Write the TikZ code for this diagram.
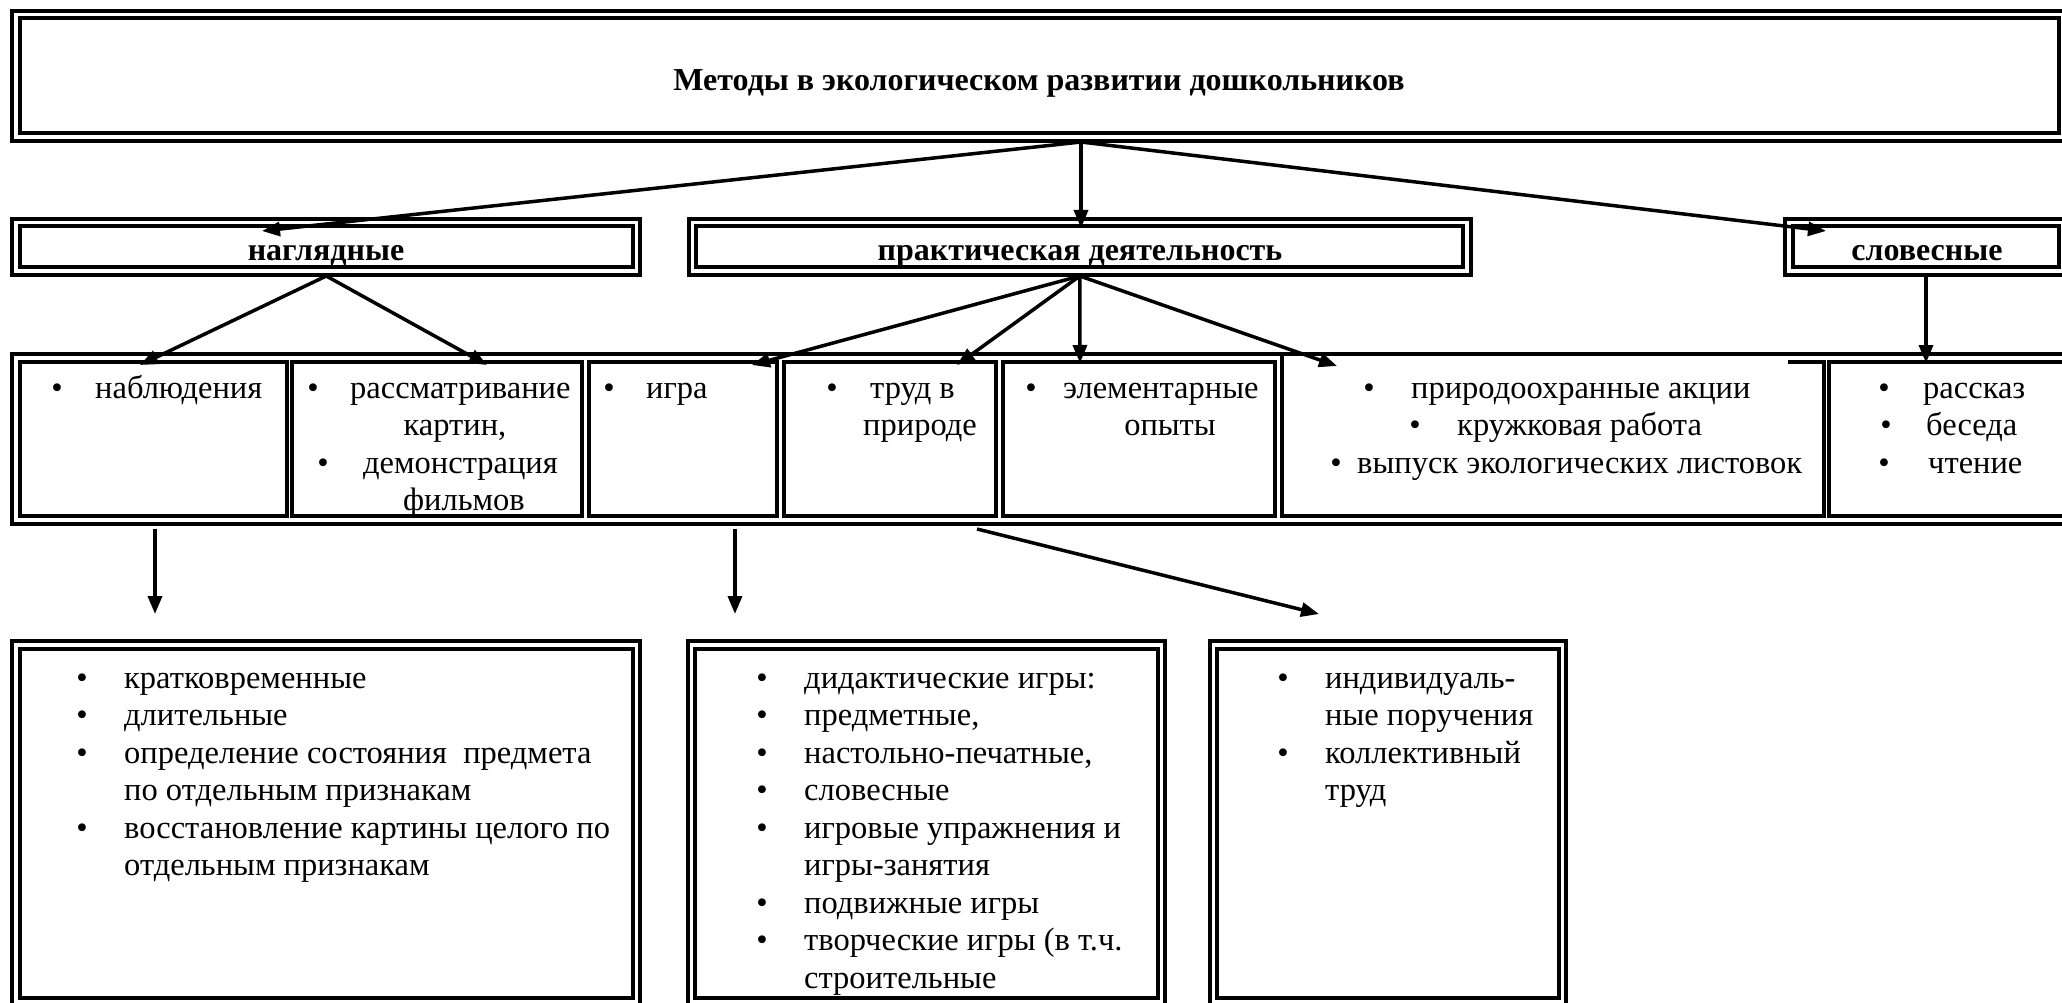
\documentclass[tikz,border=0pt]{standalone}
\usepackage{fontspec}
\setmainfont{Liberation Serif}
\usetikzlibrary{arrows.meta}
\newcommand{\myBody}{\fontsize{32.5}{37.5}\selectfont}
\newcommand{\myHead}{\bfseries\fontsize{32}{37.5}\selectfont}
\tikzset{
  box/.style={anchor=north west, inner sep=0pt, outer sep=0pt},
  dbl/.style={box, draw, line width=4pt, double, double distance=3.4pt},
  sgl/.style={box, draw, line width=4pt},
  arr/.style={line width=3.5pt, -{Triangle[length=18pt,width=14pt]}},
  txt/.style={anchor=base west, inner sep=0pt, font=\myBody},
  ctxt/.style={anchor=base, inner sep=0pt, font=\myBody},
  bul/.style={anchor=base, inner sep=0pt, font=\myBody},
  head/.style={anchor=base, inner sep=0pt, font=\myHead},
}
\begin{document}
\begin{tikzpicture}[x=1pt,y=-1pt]
\useasboundingbox[fill=white] (0,0) rectangle (2062,1003);

% ---------- boxes ----------
\node[dbl, minimum width=2047pt, minimum height=122.5pt] (top) at (16,14.5) {};
\node[head] (title) at (1039,91) {Методы в экологическом развитии дошкольников};

\node[dbl, minimum width=620.5pt, minimum height=48.5pt] (nagl) at (16,222.5) {};
\node[dbl, minimum width=774.5pt, minimum height=48.5pt] (prakt) at (692.5,222.5) {};
\node[dbl, minimum width=274pt, minimum height=48.5pt] (slov) at (1789,222.5) {};
\node[head] (naglT) at (326,261) {наглядные};
\node[head] (praktT) at (1080,261) {практическая деятельность};
\node[head] (slovT) at (1927,261) {словесные};

\node[sgl, minimum width=2060pt, minimum height=170pt] (frame) at (12,354) {};
\node[sgl, minimum width=267pt, minimum height=154pt] (c1) at (20,362) {};
\node[sgl, minimum width=290pt, minimum height=154pt] (c2) at (292,362) {};
\node[sgl, minimum width=188pt, minimum height=154pt] (c3) at (589,362) {};
\node[sgl, minimum width=212pt, minimum height=154pt] (c4) at (784,362) {};
\node[sgl, minimum width=272pt, minimum height=154pt] (c5) at (1003,362) {};
\node[box, minimum width=542pt, minimum height=162pt] (c6) at (1282,354) {};
\draw[line width=4pt] (1788,362) -| (c6.south east) -| (c6.north west) -- (1788,354);
\node[sgl, minimum width=245pt, minimum height=154pt] (c7) at (1829,362) {};

\node[dbl, minimum width=620.5pt, minimum height=357pt] (b1) at (16,645) {};
\node[dbl, minimum width=470pt, minimum height=357pt] (b2) at (691.5,645) {};
\node[dbl, minimum width=349pt, minimum height=357pt] (b3) at (1213.5,645) {};

% ---------- row 3 texts ----------
\node[bul] (c1b1) at (57,398) {•};
\node[txt] (c1t1) at (95,398) {наблюдения};

\node[bul] (c2b1) at (313,398) {•};
\node[txt] (c2t1) at (350,398) {рассматривание};
\node[ctxt] (c2t2) at (455,435.5) {картин,};
\node[bul] (c2b3) at (323,473) {•};
\node[txt] (c2t3) at (363,473) {демонстрация};
\node[ctxt] (c2t4) at (464,510.5) {фильмов};

\node[bul] (c3b1) at (609,398) {•};
\node[txt] (c3t1) at (646,398) {игра};

\node[bul] (c4b1) at (832,398) {•};
\node[txt] (c4t1) at (870,398) {труд в};
\node[ctxt] (c4t2) at (920,435.5) {природе};

\node[bul] (c5b1) at (1031,398) {•};
\node[txt] (c5t1) at (1063,398) {элементарные};
\node[ctxt] (c5t2) at (1170,435.5) {опыты};

\node[bul] (c6b1) at (1369,398) {•};
\node[txt] (c6t1) at (1411,398) {природоохранные акции};
\node[bul] (c6b2) at (1415,435.5) {•};
\node[txt] (c6t2) at (1457,435.5) {кружковая работа};
\node[bul] (c6b3) at (1336,473) {•};
\node[txt] (c6t3) at (1357,473) {выпуск экологических листовок};

\node[bul] (c7b1) at (1884,398) {•};
\node[txt] (c7t1) at (1923,398) {рассказ};
\node[bul] (c7b2) at (1886,435.5) {•};
\node[txt] (c7t2) at (1926,435.5) {беседа};
\node[bul] (c7b3) at (1884,473) {•};
\node[txt] (c7t3) at (1928,473) {чтение};

% ---------- bottom texts ----------
\node[bul] (b1b1) at (82,688) {•};
\node[txt] (b1t1) at (124,688) {кратковременные};
\node[bul] (b1b2) at (82,725.5) {•};
\node[txt] (b1t2) at (124,725.5) {длительные};
\node[bul] (b1b3) at (82,763) {•};
\node[txt] (b1t3) at (124,763) {определение состояния \ предмета};
\node[txt] (b1t4) at (124,800.5) {по отдельным признакам};
\node[bul] (b1b5) at (82,838) {•};
\node[txt] (b1t5) at (124,838) {восстановление картины целого по};
\node[txt] (b1t6) at (124,875.5) {отдельным признакам};

\node[bul] (b2b1) at (762,688) {•};
\node[txt] (b2t1) at (804,688) {дидактические игры:};
\node[bul] (b2b2) at (762,725.5) {•};
\node[txt] (b2t2) at (804,725.5) {предметные,};
\node[bul] (b2b3) at (762,763) {•};
\node[txt] (b2t3) at (804,763) {настольно-печатные,};
\node[bul] (b2b4) at (762,800.5) {•};
\node[txt] (b2t4) at (804,800.5) {словесные};
\node[bul] (b2b5) at (762,838) {•};
\node[txt] (b2t5) at (804,838) {игровые упражнения и};
\node[txt] (b2t6) at (804,875.5) {игры-занятия};
\node[bul] (b2b7) at (762,913) {•};
\node[txt] (b2t7) at (804,913) {подвижные игры};
\node[bul] (b2b8) at (762,950.5) {•};
\node[txt] (b2t8) at (804,950.5) {творческие игры (в т.ч.};
\node[txt] (b2t9) at (804,988) {строительные};

\node[bul] (b3b1) at (1283,688) {•};
\node[txt] (b3t1) at (1325,688) {индивидуаль-};
\node[txt] (b3t2) at (1325,725.5) {ные поручения};
\node[bul] (b3b3) at (1283,763) {•};
\node[txt] (b3t3) at (1325,763) {коллективный};
\node[txt] (b3t4) at (1325,800.5) {труд};

% ---------- connectors ----------
\coordinate (s0) at (1081,142);
\coordinate (tA) at (262,231);
\coordinate (tB) at (1081,228);
\coordinate (tC) at (1826,231);
\draw[arr] (s0) -- (tA);
\draw[arr] (s0) -- (tB);
\draw[arr] (s0) -- (tC);

\coordinate (t1) at (140,365);
\coordinate (t2) at (487,365);
\draw[arr] ([yshift=-5pt]nagl.south) -- (t1);
\draw[arr] ([yshift=-5pt]nagl.south) -- (t2);

\coordinate (t3) at (752,365);
\coordinate (t4) at (957,365);
\coordinate (t5) at (1080,363);
\coordinate (t6) at (1337,366);
\draw[arr] ([yshift=-5pt]prakt.south) -- (t3);
\draw[arr] ([yshift=-5pt]prakt.south) -- (t4);
\draw[arr] ([yshift=-5pt]prakt.south) -- (t5);
\draw[arr] ([yshift=-5pt]prakt.south) -- (t6);

\coordinate (t7) at (1926,363);
\draw[arr] ([yshift=-5pt]slov.south) -- (t7);

\coordinate (s8) at (155,529);
\coordinate (t8) at (155,614);
\coordinate (s9) at (735,529);
\coordinate (t9) at (735,614);
\coordinate (s10) at (977,529);
\coordinate (t10) at (1319,614);
\draw[arr] (s8) -- (t8);
\draw[arr] (s9) -- (t9);
\draw[arr] (s10) -- (t10);
\end{tikzpicture}
\end{document}
